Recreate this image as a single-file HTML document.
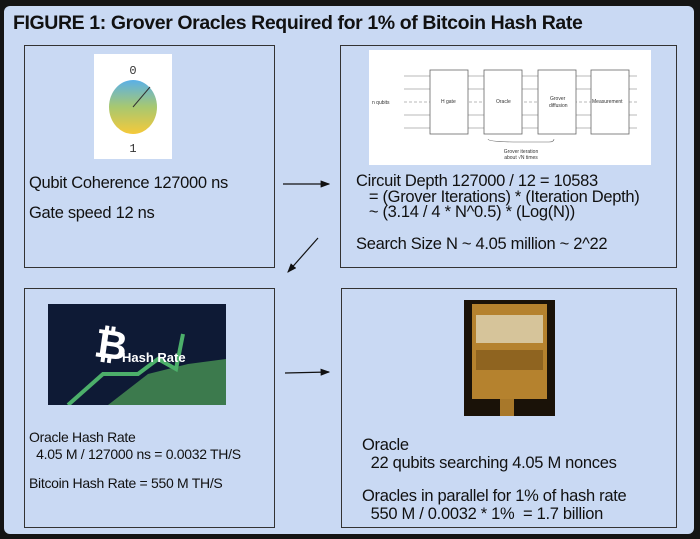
<!DOCTYPE html>
<html><head><style>
body{margin:0;width:700px;height:539px;background:#141414;position:relative;overflow:hidden;font-family:"Liberation Sans",sans-serif;}
.panel{position:absolute;left:4px;top:6px;width:690px;height:528px;background:#c9d9f3;border-radius:6px;}
.box{position:absolute;border:1px solid #333;background:#c9d9f3;}
.t{position:absolute;color:#111;white-space:pre;letter-spacing:-0.3px;}
</style></head><body>
<div class="panel"></div>
<div class="t" style="left:13px;top:12px;font-size:19.5px;font-weight:bold;letter-spacing:-0.4px">FIGURE 1: Grover Oracles Required for 1% of Bitcoin Hash Rate</div>
<div class="box" style="left:24px;top:45px;width:249px;height:221px"></div>
<div class="box" style="left:340px;top:45px;width:335px;height:221px"></div>
<div class="box" style="left:24px;top:288px;width:249px;height:238px"></div>
<div class="box" style="left:341px;top:288px;width:334px;height:238px"></div>

<svg style="position:absolute;left:94px;top:54px" width="78" height="105">
<rect width="78" height="105" fill="#fff"/>
<defs><linearGradient id="g" x1="0" y1="0" x2="0" y2="1"><stop offset="0" stop-color="#5ab0e8"/><stop offset="0.5" stop-color="#a8c870"/><stop offset="1" stop-color="#f5c93a"/></linearGradient></defs>
<text x="39" y="20" font-family="Liberation Mono" font-size="12" text-anchor="middle" fill="#333">0</text>
<ellipse cx="39" cy="53" rx="24" ry="27" fill="url(#g)"/>
<line x1="39" y1="53" x2="56" y2="33" stroke="#333" stroke-width="1"/>
<text x="39" y="98" font-family="Liberation Mono" font-size="12" text-anchor="middle" fill="#333">1</text>
</svg>
<svg style="position:absolute;left:369px;top:50px" width="282" height="115" font-family="Liberation Sans" font-size="5" fill="#333">
<rect width="282" height="115" fill="#fff"/>
<g stroke="#777" stroke-width="0.6">
<line x1="35" y1="26" x2="268" y2="26"/><line x1="35" y1="39" x2="268" y2="39"/>
<line x1="35" y1="52" x2="268" y2="52" stroke-dasharray="3,2"/>
<line x1="35" y1="65" x2="268" y2="65"/><line x1="35" y1="78" x2="268" y2="78"/>
</g>
<g fill="#fff" stroke="#666" stroke-width="0.8">
<rect x="61" y="20" width="38" height="64"/><rect x="115" y="20" width="38" height="64"/>
<rect x="169" y="20" width="38" height="64"/><rect x="222" y="20" width="38" height="64"/>
</g>
<text x="3" y="54">n qubits</text>
<text x="72" y="53">H gate</text><text x="127" y="53">Oracle</text>
<text x="181" y="50">Grover</text><text x="180" y="57">diffusion</text><text x="223" y="53">Measurement</text>
<path d="M 119 89 Q 119 92 150 92 Q 150 92 180 92 Q 185 92 185 89" stroke="#666" fill="none" stroke-width="0.6"/>
<text x="152" y="103" text-anchor="middle">Grover iteration</text><text x="152" y="109" text-anchor="middle">about √N times</text>
</svg>
<svg style="position:absolute;left:48px;top:304px" width="178" height="101">
<rect width="178" height="101" fill="#0e1a35"/>
<path d="M60 101 L100 70 L140 60 L178 55 L178 101 Z" fill="#3c7a4d"/>
<polyline points="20,101 55,70 90,70 110,55 128,65 135,30" stroke="#4caf6a" stroke-width="4" fill="none"/>
<text x="45" y="52" font-family="Liberation Sans" font-size="40" font-weight="bold" fill="#fff" transform="rotate(8 45 52)">₿</text>
<text x="74" y="58" font-family="Liberation Sans" font-size="13" font-weight="bold" fill="#fff">Hash Rate</text>
</svg>
<svg style="position:absolute;left:464px;top:300px" width="91" height="116">
<rect width="91" height="116" fill="#1a1208"/>
<rect x="8" y="4" width="75" height="95" fill="#b5822e"/>
<rect x="12" y="15" width="67" height="28" fill="#d6c49a"/>
<rect x="12" y="50" width="67" height="20" fill="#8f6420"/>
<rect x="36" y="99" width="14" height="17" fill="#a8782a"/>
</svg>

<div class="t" style="left:29px;top:174px;font-size:16.5px">Qubit Coherence 127000 ns</div>
<div class="t" style="left:29px;top:204px;font-size:16.5px">Gate speed 12 ns</div>
<div class="t" style="left:356px;top:174px;font-size:16.5px;line-height:15.5px">Circuit Depth 127000 / 12 = 10583
   = (Grover Iterations) * (Iteration Depth)
   ~ (3.14 / 4 * N^0.5) * (Log(N))</div>
<div class="t" style="left:356px;top:235px;font-size:16.5px">Search Size N ~ 4.05 million ~ 2^22</div>
<div class="t" style="left:29px;top:429px;font-size:14px;line-height:17px">Oracle Hash Rate
  4.05 M / 127000 ns = 0.0032 TH/S</div>
<div class="t" style="left:29px;top:475px;font-size:14px">Bitcoin Hash Rate = 550 M TH/S</div>
<div class="t" style="left:362px;top:436px;font-size:16.5px;line-height:18px">Oracle
  22 qubits searching 4.05 M nonces</div>
<div class="t" style="left:362px;top:487px;font-size:16.5px;line-height:18px">Oracles in parallel for 1% of hash rate
  550 M / 0.0032 * 1%  = 1.7 billion</div>

<svg style="position:absolute;left:0;top:0" width="700" height="539">
<defs><marker id="a" markerWidth="8" markerHeight="6" refX="7" refY="3" orient="auto"><path d="M0,0 L8,3 L0,6 Z" fill="#111"/></marker></defs>
<line x1="283" y1="184" x2="329" y2="184" stroke="#111" stroke-width="1.2" marker-end="url(#a)"/>
<line x1="318" y1="238" x2="288" y2="272" stroke="#111" stroke-width="1.2" marker-end="url(#a)"/>
<line x1="285" y1="373" x2="329" y2="372" stroke="#111" stroke-width="1.2" marker-end="url(#a)"/>
</svg>
</body></html>
